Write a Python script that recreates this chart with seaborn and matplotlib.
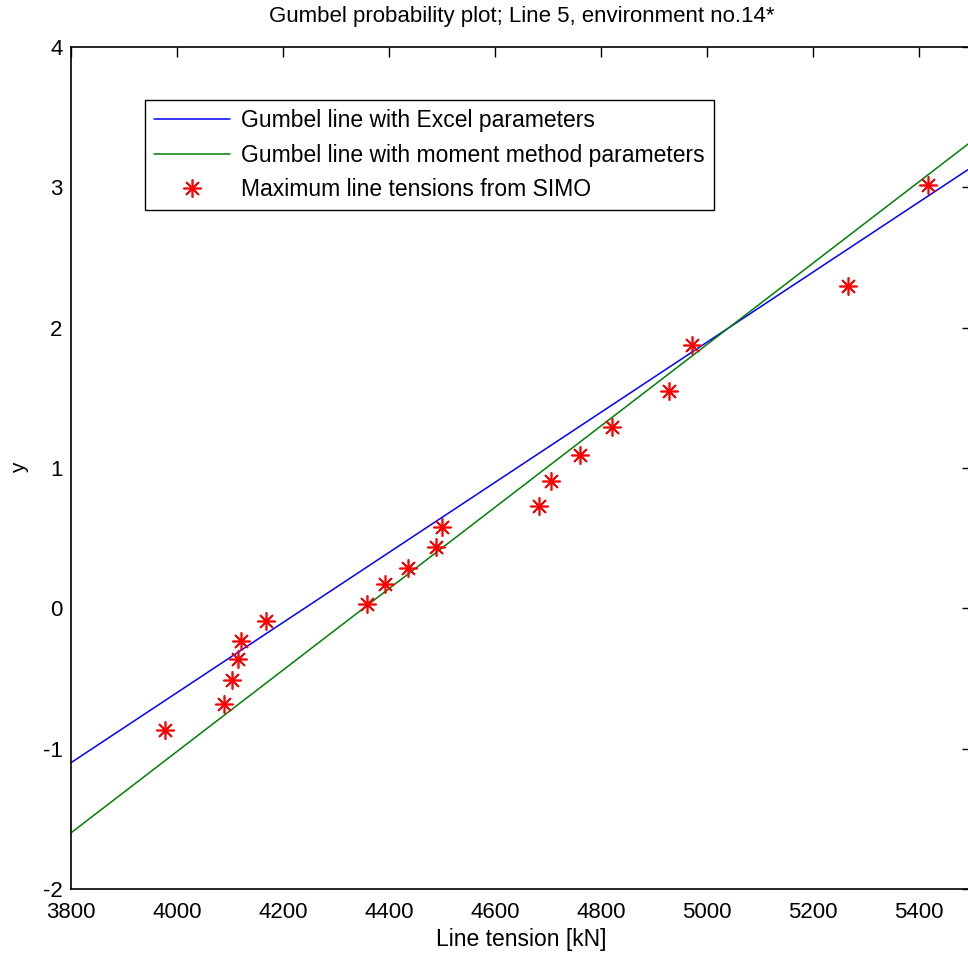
import matplotlib
matplotlib.use("Agg")
import matplotlib.pyplot as plt
import seaborn as sns
import pandas as pd

# Maximum line tensions from SIMO and their reduced Gumbel variate
tension_kn = [3977, 4089, 4104, 4115, 4121, 4168, 4358, 4392, 4436, 4489,
              4500, 4683, 4706, 4760, 4821, 4928, 4972, 5266, 5417]
reduced_y = [-0.87, -0.68, -0.51, -0.36, -0.235, -0.09, 0.03, 0.17, 0.29, 0.44,
             0.58, 0.73, 0.905, 1.09, 1.29, 1.55, 1.875, 2.30, 3.02]

# Fitted Gumbel lines (end points over the plotted tension range)
line_x = [3800, 5500]
excel_y = [-1.10, 3.145]
moment_y = [-1.60, 3.33]

sns.set_style("white")
plt.rcParams["axes.unicode_minus"] = False
plt.rcParams["text.color"] = "black"
plt.rcParams["axes.labelcolor"] = "black"
font = ["Liberation Sans", "DejaVu Sans"]

fig = plt.figure(figsize=(9.68, 9.56), dpi=100)
ax = fig.add_axes([71 / 968, 67 / 956, (972 - 71) / 968, (889 - 47) / 956])

lines = pd.DataFrame({
    "x": line_x * 2,
    "y": excel_y + moment_y,
    "fit": ["Gumbel line with Excel parameters"] * 2
           + ["Gumbel line with moment method parameters"] * 2,
})
sns.lineplot(data=lines, x="x", y="y", hue="fit",
             palette=["#0000ff", "#008000"], linewidth=1.1, ax=ax)

ax.plot(tension_kn, reduced_y, linestyle="none", marker=(8, 2, 0),
        markersize=13, markeredgewidth=1.2, color="#ff0000",
        label="Maximum line tensions from SIMO")

ax.set_xlim(3800, 5500)
ax.set_ylim(-2, 4)
ax.set_xticks(range(3800, 5401, 200))
ax.set_yticks(range(-2, 5))

for s in ax.spines.values():
    s.set_color("black")
    s.set_linewidth(1.2)
ax.tick_params(direction="in", length=7.5, width=1.0, top=True, right=True,
               colors="black", labelsize=16)
ax.tick_params(axis="x", pad=9)
ax.tick_params(axis="y", pad=6)
for lab in ax.get_xticklabels() + ax.get_yticklabels():
    lab.set_family(font)

ax.set_title("Gumbel probability plot; Line 5, environment no.14*",
             family=font, fontsize=16, pad=18, color="black")
ax.set_xlabel("Line tension [kN]", family=font, fontsize=16.5, labelpad=4)
ax.set_ylabel("y", family=font, fontsize=15)
ax.yaxis.set_label_coords((29 - 71) / 901, 0.5)

handles, labels = ax.get_legend_handles_labels()
leg = ax.legend(handles, labels, loc="upper left",
                bbox_to_anchor=(74 / 901, 1 - 53 / 842),
                frameon=True, fancybox=False, framealpha=1,
                edgecolor="black", handlelength=3.3, handletextpad=0.5,
                borderpad=0.4, labelspacing=0.5, borderaxespad=0,
                labelcolor="black",
                prop={"family": font, "size": 16.5})
leg.get_frame().set_linewidth(1.0)

fig.savefig("out.png", dpi=100, facecolor="white")
